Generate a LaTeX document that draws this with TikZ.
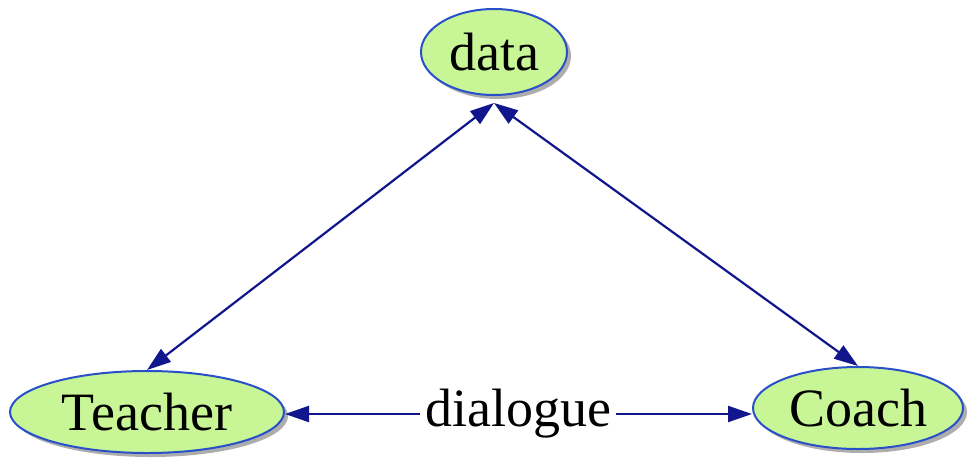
\documentclass[tikz,border=0pt]{standalone}
\usepackage{fontspec}
\setmainfont{Liberation Serif}
\usetikzlibrary{shapes.geometric,arrows.meta,shadows}
\definecolor{nodefill}{RGB}{200,245,150}
\definecolor{nodeborder}{RGB}{40,80,200}
\definecolor{edgecol}{RGB}{18,22,140}
\tikzset{
  bubble/.style={ellipse, draw=nodeborder, line width=2pt, fill=nodefill, inner sep=0pt,
    font=\fontsize{54}{60}\selectfont,
    drop shadow={shadow xshift=4pt, shadow yshift=-4pt, fill=black!40, opacity=0.8}},
  link/.style={draw=edgecol, line width=2.2pt,
    arrows={Triangle[length=24pt,width=16pt]-Triangle[length=24pt,width=16pt]}},
  linkend/.style={draw=edgecol, line width=2.2pt, -{Triangle[length=24pt,width=16pt]}},
  lbl/.style={font=\fontsize{54}{60}\selectfont, inner sep=5pt}
}
\begin{document}
\begin{tikzpicture}[x=1pt,y=-1pt]
\useasboundingbox (0,0) rectangle (968,459);
\node[bubble, minimum width=146pt, minimum height=86pt] (data) at (494,52) {data};
\node[bubble, minimum width=274pt, minimum height=82pt] (teacher) at (147,412) {Teacher};
\node[bubble, minimum width=210pt, minimum height=82pt] (coach) at (858,408) {Coach};
\node[lbl] (dlg) at (518,414) {dialogue};
\coordinate (dtip) at ([yshift=-7pt]data.south);
\draw[link] (dtip) -- (teacher.north);
\draw[link] (dtip) -- (coach.north);
\draw[linkend] (dlg.west) -- (dlg.west -| teacher.east);
\draw[linkend] (dlg.east) -- (dlg.east -| coach.west);
\end{tikzpicture}
\end{document}
